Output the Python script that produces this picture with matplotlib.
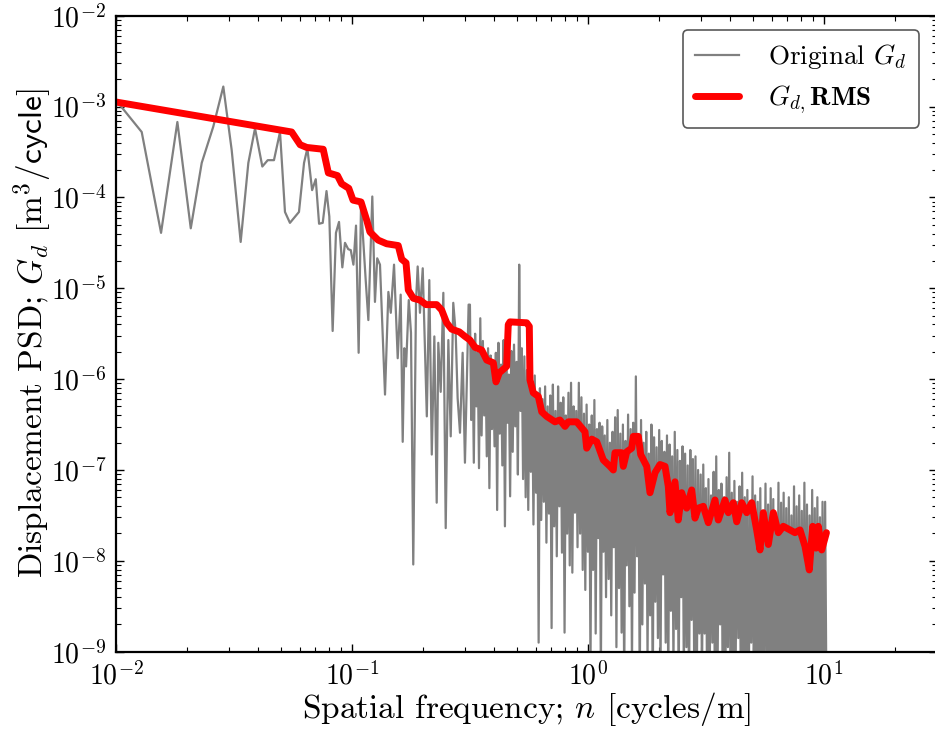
import numpy as np
import matplotlib
matplotlib.use("Agg")
import matplotlib.pyplot as plt

plt.rcParams['font.family'] = 'serif'
plt.rcParams['font.serif'] = ['cmr10']
plt.rcParams['mathtext.fontset'] = 'cm'
plt.rcParams['axes.formatter.use_mathtext'] = True

# original PSD, low-frequency part (individual points)
n_low = [0.0100, 0.01285, 0.01552, 0.01820, 0.02074, 0.02308, 0.02584, 0.02849,
         0.03092, 0.03375, 0.03637, 0.03882, 0.04169, 0.04395, 0.04670, 0.04954,
         0.05200, 0.05458, 0.05961, 0.06263, 0.06470, 0.06776, 0.07021, 0.07252,
         0.07516, 0.07798, 0.08015, 0.08280, 0.08551, 0.08810, 0.09100, 0.09340,
         0.09640, 0.09880, 0.1014, 0.1040, 0.1067, 0.1092, 0.1143, 0.1173,
         0.1219, 0.1251, 0.1279, 0.1314, 0.1380, 0.1426, 0.1460, 0.1507,
         0.1562, 0.1608, 0.1640, 0.1666, 0.1695, 0.1740, 0.1778, 0.1818,
         0.1867, 0.1898, 0.1941, 0.1994, 0.2075, 0.2126, 0.2178, 0.2233,
         0.2285, 0.2321, 0.2376, 0.2438, 0.2495, 0.2560, 0.2620, 0.2686,
         0.2750, 0.2803, 0.2868, 0.2943, 0.3010, 0.3120]
gd_low_log = [-2.93, -3.28, -4.39, -3.17, -4.34, -3.62, -3.22, -2.78,
              -3.48, -4.49, -3.62, -3.24, -3.66, -3.59, -3.59, -3.28,
              -4.16, -4.28, -4.16, -3.62, -3.46, -3.92, -3.80, -4.29,
              -4.28, -3.93, -4.21, -5.47, -4.39, -4.27, -4.77, -4.50,
              -4.57, -4.58, -4.74, -4.31, -5.71, -4.08, -4.91, -5.35,
              -3.99, -5.15, -4.67, -4.74, -6.17, -5.04, -5.27, -4.74,
              -5.77, -5.07, -6.69, -5.66, -5.86, -5.13, -5.49, -8.04,
              -5.15, -4.76, -5.27, -4.78, -6.41, -4.91, -6.83, -5.53,
              -7.36, -5.60, -6.14, -5.05, -7.64, -5.57, -6.63, -5.16,
              -5.49, -6.21, -6.59, -5.71, -6.92, -5.18]

# original PSD, dense part (n = 0.32 .. 10.24): alternating peaks and troughs
gd_peak_log = [-5.18, -5.62, -5.50, -5.71, -5.33, -5.58, -5.80, -5.66, -5.74, -5.92,
               -5.71, -5.60, -5.84, -5.57, -5.78, -5.95, -5.69, -5.62, -5.81, -4.74,
               -5.66, -5.75, -5.90, -5.81, -6.03, -5.96, -6.15, -6.10, -6.22, -6.08,
               -6.30, -6.18, -6.06, -6.35, -6.08, -6.26, -6.20, -6.40, -6.15, -6.04,
               -6.30, -6.35, -6.04, -6.20, -6.38, -6.28, -6.50,
               -6.40, -6.23, -6.55, -6.48, -6.52, -6.62, -6.45, -6.70, -6.58, -6.42,
               -6.34, -6.60, -6.50, -6.68, -6.39, -6.55, -6.48, -5.97, -6.62, -6.45,
               -6.70, -6.58, -6.82, -6.50, -6.64, -6.75, -6.56, -6.68, -6.80, -6.62,
               -6.72, -6.85, -6.58, -6.78, -6.90, -6.74, -6.82, -6.95, -6.78, -6.88,
               -6.85, -7.00,
               -7.05, -6.94, -7.20, -7.10, -7.28, -7.02, -6.85, -7.22, -7.15, -7.30,
               -7.08, -6.81, -7.25, -7.12, -7.35, -7.18, -7.03, -7.30, -7.22, -7.40,
               -7.07, -7.28, -7.35, -7.20, -7.45, -7.15, -7.38, -7.20, -7.32, -7.48,
               -7.14, -7.36, -7.25, -7.42, -7.30, -7.50, -7.18, -7.40, -7.28, -7.45,
               -7.14, -7.38, -7.50, -7.22, -7.42, -7.30, -7.52, -7.35, -7.35]
gd_trough_log = [-6.45, -6.92, -6.30, -6.98, -6.62, -6.40, -6.85, -7.20, -6.55, -6.74,
                 -7.44, -6.60, -6.95, -7.62, -6.48, -7.29, -6.80, -6.52, -7.05, -6.35,
                 -7.10, -7.30, -7.44, -7.02, -7.60, -7.25, -8.90, -7.55, -7.35, -7.80,
                 -7.48, -8.74, -7.62, -7.95, -7.40, -7.91, -8.79, -7.70, -8.05, -8.13,
                 -7.47, -7.85, -7.70, -8.10, -8.32, -7.90, -9.20,
                 -8.10, -8.80, -7.75, -9.30, -7.90, -8.40, -8.20, -8.60, -7.85, -8.95,
                 -8.30, -8.79, -9.40, -8.05, -8.50, -9.20, -8.35, -7.95, -9.50, -8.70,
                 -8.25, -9.10, -8.60, -9.60, -8.45, -8.85, -9.30, -8.15, -8.90, -9.40,
                 -8.55, -9.20, -8.75, -9.50, -8.40, -9.30, -8.95, -9.60, -8.65, -9.20,
                 -9.45, -8.80,
                 -9.40, -8.80, -9.60, -9.20, -8.90, -9.70, -9.30, -8.70, -9.50, -9.60,
                 -8.95, -9.40, -9.80, -9.10, -8.85, -9.60, -9.50, -9.20, -9.70, -8.90,
                 -9.40, -9.60, -9.30, -9.80, -9.00, -9.50, -9.70, -9.20, -9.60, -9.40,
                 -9.90, -9.30, -9.70, -9.50, -9.60, -9.20, -9.80, -9.40, -9.70, -9.50,
                 -9.60, -9.90, -9.30, -9.70, -9.50, -9.80, -9.40, -9.60, -9.50]
n_dense_range = (0.316, 10.24)

# RMS-smoothed PSD
n_rms = [0.0100, 0.0555, 0.0603, 0.0643, 0.0755, 0.0794, 0.0868, 0.0904, 0.0969, 0.1010,
         0.1092, 0.1154, 0.1191, 0.1291, 0.1402, 0.1570, 0.1624, 0.1694, 0.1732, 0.1819,
         0.1941, 0.2059, 0.2285, 0.2399, 0.2518, 0.2643, 0.2849, 0.3011, 0.3162, 0.3320,
         0.3544, 0.3723, 0.3970, 0.4075, 0.4209, 0.4521, 0.4593, 0.4670, 0.5498, 0.5640,
         0.5678, 0.5864, 0.6158, 0.6368, 0.6683, 0.7244, 0.7603, 0.7990, 0.8249, 0.8956,
         0.9712, 0.9874, 1.037, 1.089, 1.161, 1.239, 1.280, 1.301, 1.389, 1.411,
         1.459, 1.532, 1.556, 1.634, 1.672, 1.774, 1.831, 1.923, 2.019, 2.120,
         2.189, 2.226, 2.337, 2.413, 2.495, 2.619, 2.750, 2.840, 2.934, 3.081,
         3.234, 3.452, 3.565, 3.806, 3.931, 4.128, 4.267, 4.480, 4.705, 4.939,
         5.185, 5.356, 5.531, 5.808, 6.099, 6.403, 6.722, 7.177, 7.535, 7.912,
         8.308, 8.664, 8.956, 9.250, 9.459, 9.779, 10.24]
gd_rms_log = [-2.95, -3.28, -3.42, -3.45, -3.47, -3.73, -3.76, -3.85, -3.90, -4.03,
              -4.05, -4.25, -4.38, -4.47, -4.51, -4.53, -4.68, -4.72, -5.02, -5.11,
              -5.13, -5.18, -5.18, -5.24, -5.38, -5.45, -5.48, -5.53, -5.57, -5.65,
              -5.68, -5.79, -5.82, -6.03, -5.93, -5.86, -5.40, -5.37, -5.38, -5.42,
              -6.01, -6.15, -6.19, -6.36, -6.41, -6.47, -6.45, -6.52, -6.47, -6.47,
              -6.58, -6.76, -6.66, -6.69, -6.89, -6.96, -7.00, -6.81, -6.81, -6.96,
              -6.80, -6.76, -6.63, -6.63, -6.83, -6.96, -7.25, -7.03, -6.94, -6.96,
              -7.18, -7.47, -7.13, -7.55, -7.25, -7.42, -7.22, -7.53, -7.42, -7.40,
              -7.58, -7.33, -7.55, -7.33, -7.47, -7.36, -7.57, -7.36, -7.47, -7.36,
              -7.66, -7.88, -7.47, -7.82, -7.47, -7.69, -7.62, -7.66, -7.69, -7.66,
              -7.84, -8.10, -7.62, -7.86, -7.62, -7.88, -7.69]

# build the original series
dense_log = np.column_stack([gd_peak_log, gd_trough_log]).ravel()
n_dense = np.geomspace(n_dense_range[0], n_dense_range[1], dense_log.size)
n_orig = np.concatenate([n_low, n_dense])
gd_orig = 10.0 ** np.concatenate([gd_low_log, dense_log])

fig = plt.figure(figsize=(9.35, 7.31), dpi=100)
W, H = 935.0, 731.0
ax = fig.add_axes([116 / W, 1 - 651.7 / H, (936.6 - 116) / W, (651.7 - 15.7) / H])

ax.loglog(n_orig, gd_orig, color='gray', lw=1.6, label=r'Original $G_d$')
ax.loglog(n_rms, 10.0 ** np.array(gd_rms_log), color='red', lw=5,
          solid_joinstyle='round', solid_capstyle='round',
          label=r'$G_{d,}\mathbf{RMS}$')

ax.set_xlim(1e-2, 3e1)
ax.set_ylim(1e-9, 1e-2)

ax.set_xlabel(r'Spatial frequency; $n$ [cycles/m]', fontsize=24, labelpad=0)
ax.set_ylabel(r'Displacement PSD; $G_d$ [m$^3\mathsf{/cycle}$]', fontsize=24)
ax.yaxis.set_label_coords(-0.076, 0.5)

ax.tick_params(which='both', direction='in', top=True, right=True, labelsize=20)
ax.tick_params(which='major', length=6, width=1.0, pad=7)
ax.tick_params(which='minor', length=3.5, width=0.8)
for sp in ax.spines.values():
    sp.set_linewidth(1.6)

leg = ax.legend(loc='upper right', bbox_to_anchor=(919 / W, 1 - 30 / H),
                bbox_transform=fig.transFigure, borderaxespad=0, fontsize=19.5,
                handlelength=1.6, handletextpad=1.1, labelspacing=0.45,
                fancybox=True, framealpha=1, edgecolor='0.35', borderpad=0.45)
leg.get_frame().set_linewidth(1.2)

plt.savefig('out.png', dpi=100)
